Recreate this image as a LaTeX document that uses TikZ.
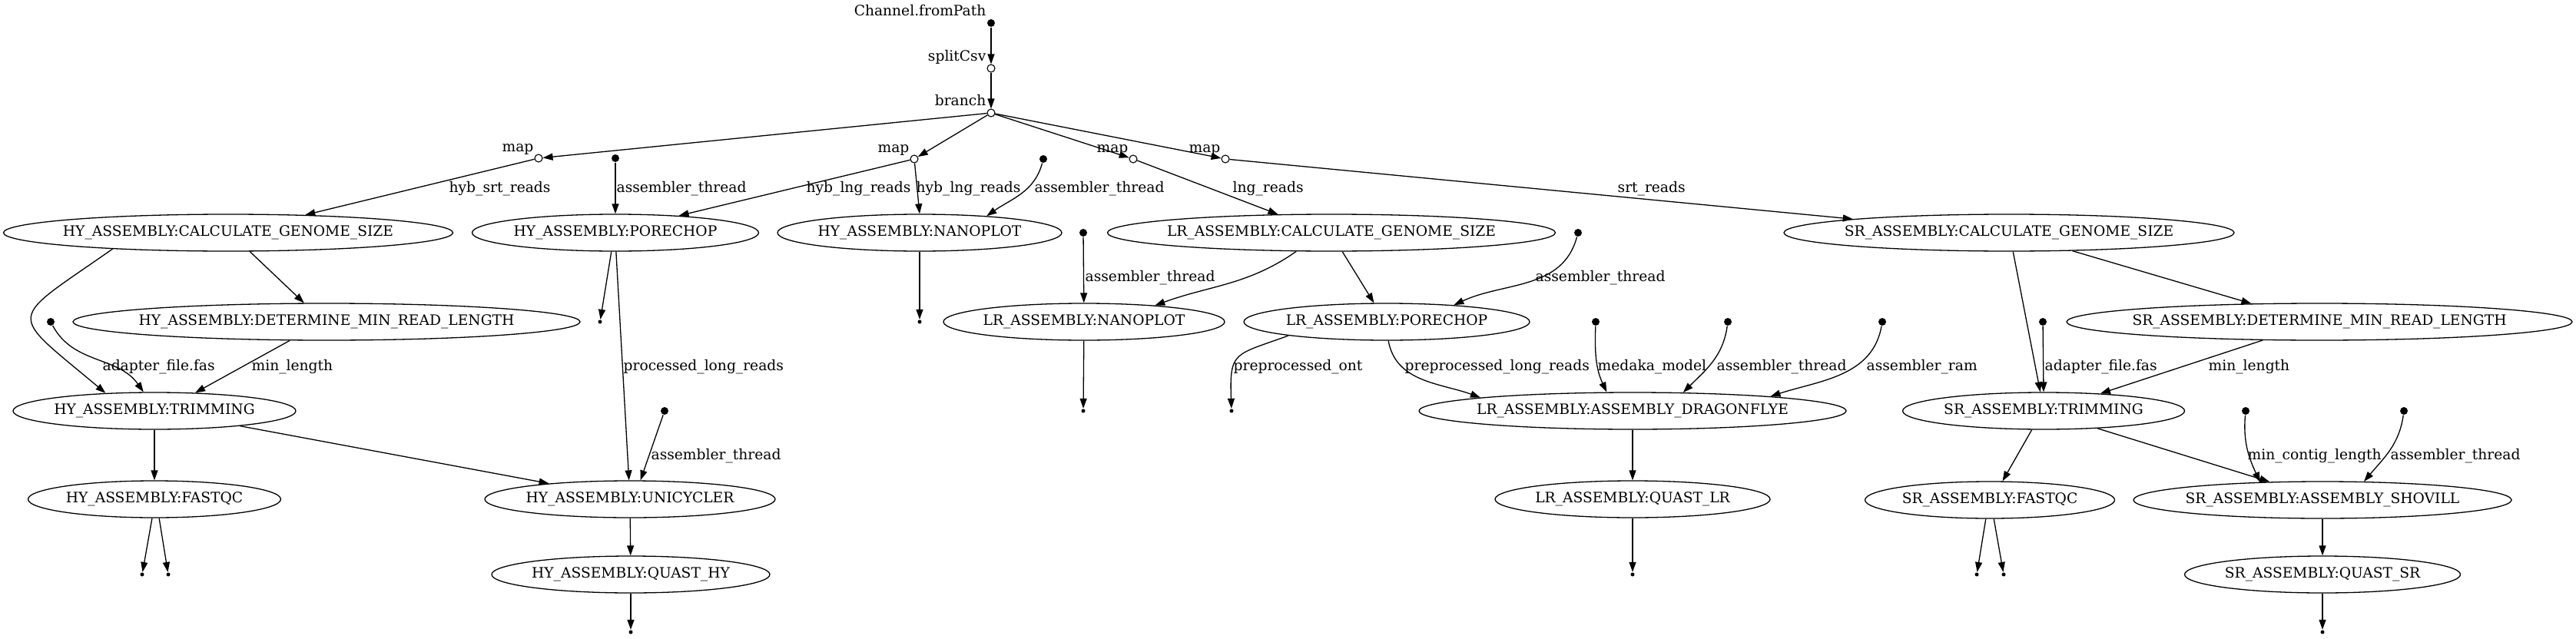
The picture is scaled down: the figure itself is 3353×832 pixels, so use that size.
\documentclass[tikz,border=0pt]{standalone}
\usepackage{fontspec}
\setmainfont{DejaVu Serif}
\usetikzlibrary{arrows.meta,shapes.geometric}

\begin{document}
\begin{tikzpicture}[x=1pt,y=1pt,line width=1.3pt,
    >={Triangle[length=13pt,width=9pt]},
    font=\fontsize{18.67}{22}\selectfont,
    proc/.style={ellipse,draw,inner xsep=-40pt,inner ysep=0pt,minimum height=48pt,minimum width=#1},
    indot/.style={circle,fill,inner sep=0pt,minimum size=10pt},
    opdot/.style={circle,draw,fill=white,inner sep=0pt,minimum size=10pt,line width=1.1pt},
    enddot/.style={circle,fill,inner sep=0pt,minimum size=5pt},
    flow/.style={->},
    lbl/.style={anchor=base west,inner sep=0pt},
    tag/.style={anchor=base east,inner sep=0pt}]
  \useasboundingbox (0,0) rectangle (3353,-832);

  \node[indot] (from) at (1290,-30) {};
  \node[opdot] (split) at (1290,-89) {};
  \node[opdot] (branch) at (1290,-147) {};
  \node[opdot] (mapl) at (701,-206) {};
  \node[opdot] (mapb) at (1190,-207) {};
  \node[opdot] (mapc) at (1475,-207) {};
  \node[opdot] (mapd) at (1595,-207) {};
  \node[tag] (tfrom) at (1284,-21) {Channel.fromPath};
  \node[tag] (tsplit) at (1284,-80) {splitCsv};
  \node[tag] (tbranch) at (1284,-138) {branch};
  \node[tag] (tmapl) at (695,-197) {map};
  \node[tag] (tmapb) at (1184,-198) {map};
  \node[tag] (tmapc) at (1469,-198) {map};
  \node[tag] (tmapd) at (1589,-198) {map};

  \node[proc=585pt] (hycalc) at (297,-303) {HY\_ASSEMBLY:CALCULATE\_GENOME\_SIZE};
  \node[proc=373pt] (hypore) at (801,-303) {HY\_ASSEMBLY:PORECHOP};
  \node[proc=370pt] (hynano) at (1197,-303) {HY\_ASSEMBLY:NANOPLOT};
  \node[proc=583pt] (lrcalc) at (1733,-303) {LR\_ASSEMBLY:CALCULATE\_GENOME\_SIZE};
  \node[proc=586pt] (srcalc) at (2615,-303) {SR\_ASSEMBLY:CALCULATE\_GENOME\_SIZE};
  \node[proc=660pt] (hydmrl) at (425,-419) {HY\_ASSEMBLY:DETERMINE\_MIN\_READ\_LENGTH};
  \node[proc=366pt] (lrnano) at (1411,-419) {LR\_ASSEMBLY:NANOPLOT};
  \node[proc=372pt] (lrpore) at (1805,-419) {LR\_ASSEMBLY:PORECHOP};
  \node[proc=658pt] (srdmrl) at (3019,-419) {SR\_ASSEMBLY:DETERMINE\_MIN\_READ\_LENGTH};
  \node[proc=368pt] (hytrim) at (201,-535) {HY\_ASSEMBLY:TRIMMING};
  \node[proc=556pt] (lrdragon) at (2125,-535) {LR\_ASSEMBLY:ASSEMBLY\_DRAGONFLYE};
  \node[proc=367pt] (srtrim) at (2660,-535) {SR\_ASSEMBLY:TRIMMING};
  \node[proc=329pt] (hyfastqc) at (201,-650) {HY\_ASSEMBLY:FASTQC};
  \node[proc=378pt] (hyuni) at (820,-650) {HY\_ASSEMBLY:UNICYCLER};
  \node[proc=358pt] (lrquast) at (2125,-650) {LR\_ASSEMBLY:QUAST\_LR};
  \node[proc=325pt] (srfastqc) at (2590,-651) {SR\_ASSEMBLY:FASTQC};
  \node[proc=492pt] (srshovill) at (3023,-651) {SR\_ASSEMBLY:ASSEMBLY\_SHOVILL};
  \node[proc=362pt] (hyquast) at (821,-748) {HY\_ASSEMBLY:QUAST\_HY};
  \node[proc=359pt] (srquast) at (3023,-748) {SR\_ASSEMBLY:QUAST\_SR};

  \node[indot] (dhp) at (801,-206) {};
  \node[indot] (dhn) at (1358,-207) {};
  \node[indot] (dad) at (66,-419) {};
  \node[indot] (dhu) at (865,-535) {};
  \node[indot] (dln) at (1410,-303) {};
  \node[indot] (dlp) at (2054,-303) {};
  \node[indot] (dmm) at (2077,-419) {};
  \node[indot] (dat) at (2249,-419) {};
  \node[indot] (dar) at (2450,-419) {};
  \node[indot] (dsa) at (2659,-419) {};
  \node[indot] (dmc) at (2923,-535) {};
  \node[indot] (dst) at (3129,-535) {};

  \node[enddot] (ehp) at (781,-419) {};
  \node[enddot] (ehn) at (1197,-419) {};
  \node[enddot] (ehf1) at (185,-748) {};
  \node[enddot] (ehf2) at (219,-748) {};
  \node[enddot] (ehq) at (821,-823) {};
  \node[enddot] (eln) at (1410,-535) {};
  \node[enddot] (eont) at (1603,-535) {};
  \node[enddot] (elq) at (2125,-748) {};
  \node[enddot] (esf1) at (2573,-748) {};
  \node[enddot] (esf2) at (2608,-748) {};
  \node[enddot] (esq) at (3023,-823) {};

  \draw[flow] (from) -- (split);
  \draw[flow] (split) -- (branch);
  \draw[flow] (branch) -- (mapl);
  \draw[flow] (branch) -- (mapb);
  \draw[flow] (branch) -- (mapc);
  \draw[flow] (branch) -- (mapd);
  \draw[flow] (mapl) -- (hycalc.13);
  \draw[flow] (dhp) -- (hypore);
  \draw[flow] (mapb) -- (hypore.15);
  \draw[flow] (mapb) -- (hynano.north);
  \draw[flow] (dhn) to[out=-105,in=35] (hynano.14);
  \draw[flow] (mapc) -- (lrcalc.161);
  \draw[flow] (mapd) -- (srcalc.175);

  \draw[flow] (hycalc.-41) -- (hydmrl.140);
  \draw[flow] (hycalc.188) to[out=215,in=140,looseness=2.3] (hytrim.160);
  \draw[flow] (dad) to[out=-62,in=125] (hytrim.120);
  \draw[flow] (hydmrl.207) -- (hytrim.24);
  \draw[flow] (hypore.-102) -- (ehp);
  \draw[flow] (hypore.-88) -- (hyuni.93);
  \draw[flow] (dhu) -- (hyuni.61);
  \draw[flow] (hytrim) -- (hyfastqc);
  \draw[flow] (hytrim.-10) -- (hyuni.169);
  \draw[flow] (hyfastqc.-97) -- (ehf1);
  \draw[flow] (hyfastqc.-76) -- (ehf2);
  \draw[flow] (hyuni) -- (hyquast);
  \draw[flow] (hyquast) -- (ehq);
  \draw[flow] (hynano) -- (ehn);

  \draw[flow] (dln) -- (lrnano);
  \draw[flow] (lrcalc.208) to[out=215,in=20] (lrnano.13);
  \draw[flow] (lrcalc.-60) -- (lrpore.124);
  \draw[flow] (dlp) to[out=-105,in=25] (lrpore.14);
  \draw[flow] (lrnano) -- (eln);
  \draw[flow] (lrpore.188) to[out=200,in=92,looseness=1.6] (eont);
  \draw[flow] (lrpore.-85) to[out=-80,in=160] (lrdragon.175);
  \draw[flow] (dmm) to[out=-92,in=115] (lrdragon.144);
  \draw[flow] (dat) to[out=-98,in=45] (lrdragon.20);
  \draw[flow] (dar) to[out=-100,in=18] (lrdragon.6);
  \draw[flow] (lrdragon) -- (lrquast);
  \draw[flow] (lrquast) -- (elq);

  \draw[flow] (srcalc.-16) -- (srdmrl.165);
  \draw[flow] (srcalc.-78) -- (srtrim.100);
  \draw[flow] (dsa) -- (srtrim.north);
  \draw[flow] (srdmrl.198) -- (srtrim.17);
  \draw[flow] (srtrim.238) -- (srfastqc.56);
  \draw[flow] (srtrim.-18) -- (srshovill.161);
  \draw[flow] (dmc) to[out=-95,in=115] (srshovill.164);
  \draw[flow] (dst) to[out=-98,in=50] (srshovill.24);
  \draw[flow] (srfastqc.-102) -- (esf1);
  \draw[flow] (srfastqc.-78) -- (esf2);
  \draw[flow] (srshovill) -- (srquast);
  \draw[flow] (srquast) -- (esq);

  \node[lbl] (lhsr) at (584,-250) {hyb\_srt\_reads};
  \node[lbl] (lhpt) at (802,-250) {assembler\_thread};
  \node[lbl] (lhl1) at (1049,-250) {hyb\_lng\_reads};
  \node[lbl] (lhl2) at (1192,-250) {hyb\_lng\_reads};
  \node[lbl] (lhnt) at (1346,-250) {assembler\_thread};
  \node[lbl] (llng) at (1604,-250) {lng\_reads};
  \node[lbl] (lsrt) at (2105,-250) {srt\_reads};
  \node[lbl] (llnt) at (1412,-366) {assembler\_thread};
  \node[lbl] (llpt) at (1998,-366) {assembler\_thread};
  \node[lbl] (lhad) at (133,-482) {adapter\_file.fas};
  \node[lbl] (lhml) at (327,-482) {min\_length};
  \node[lbl] (lhpl) at (811,-482) {processed\_long\_reads};
  \node[lbl] (lont) at (1605,-482) {preprocessed\_ont};
  \node[lbl] (lppl) at (1828,-482) {preprocessed\_long\_reads};
  \node[lbl] (lmed) at (2079,-482) {medaka\_model};
  \node[lbl] (ldat) at (2234,-482) {assembler\_thread};
  \node[lbl] (ldar) at (2429,-482) {assembler\_ram};
  \node[lbl] (lsad) at (2661,-482) {adapter\_file.fas};
  \node[lbl] (lsml) at (2874,-482) {min\_length};
  \node[lbl] (lhut) at (847,-598) {assembler\_thread};
  \node[lbl] (lsmc) at (2925,-598) {min\_contig\_length};
  \node[lbl] (lsst) at (3111,-598) {assembler\_thread};
\end{tikzpicture}
\end{document}
